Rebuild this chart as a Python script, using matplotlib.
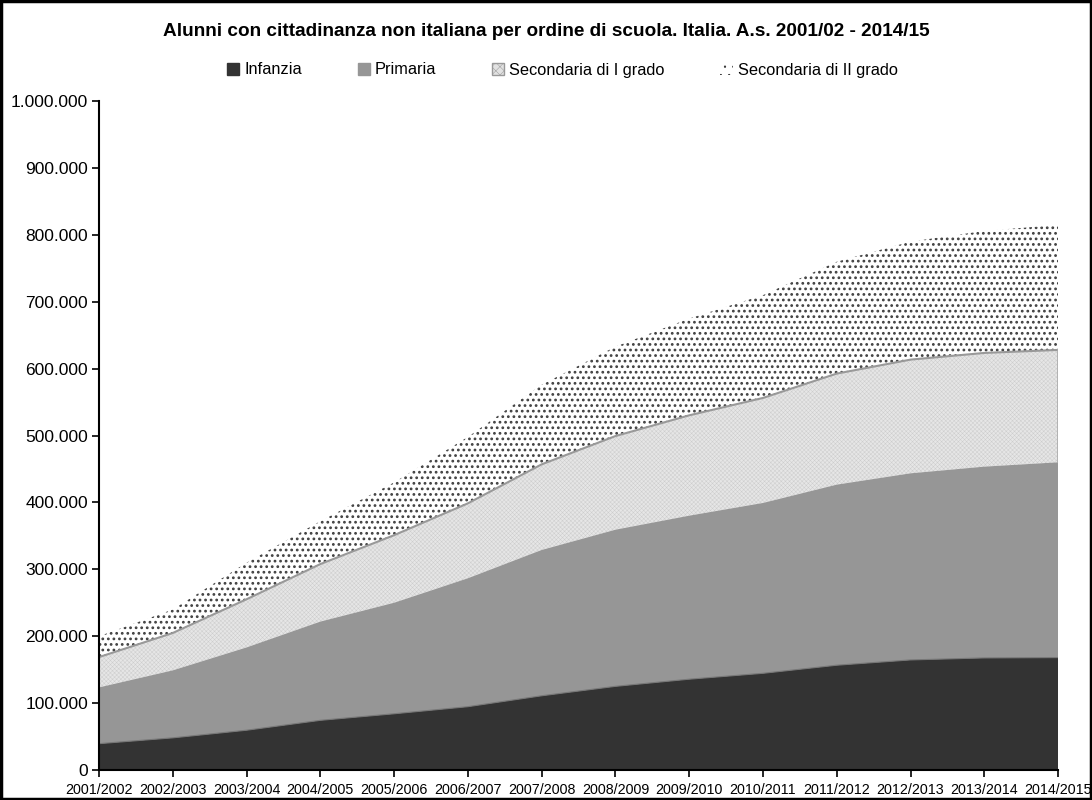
"""
Alunni con cittadinanza non italiana per ordine di scuola - stacked area chart
"""
import numpy as np
import matplotlib.pyplot as plt
from matplotlib.patches import Patch, Rectangle
from matplotlib.ticker import FuncFormatter

plt.rcParams['font.family'] = ['Liberation Sans', 'DejaVu Sans']

anni = ['2001/2002', '2002/2003', '2003/2004', '2004/2005', '2005/2006', '2006/2007',
        '2007/2008', '2008/2009', '2009/2010', '2010/2011', '2011/2012', '2012/2013',
        '2013/2014', '2014/2015']

infanzia = [39400, 48100, 59500, 74300, 84100, 94700, 111000, 125100, 135800,
            144600, 156700, 164600, 167600, 168100]
primaria = [84100, 100900, 123800, 147600, 166000, 192000, 218000, 234200, 244500,
            254700, 270000, 279000, 286000, 292000]
secondaria_1 = [45300, 55900, 72000, 86000, 101000, 112000, 128000, 140000, 150000,
                157000, 166000, 170000, 170000, 168000]
secondaria_2 = [31200, 35100, 54700, 64100, 78900, 99300, 119000, 133700, 144700,
                153700, 167300, 176400, 182400, 186900]

x = np.arange(len(anni))
c1 = np.array(infanzia)
c2 = c1 + np.array(primaria)
c3 = c2 + np.array(secondaria_1)
c4 = c3 + np.array(secondaria_2)

fig = plt.figure(figsize=(10.92, 8), dpi=100)
ax = fig.add_axes([0.0907, 0.0375, 0.8782, 0.836])

plt.rcParams['hatch.linewidth'] = 1.2
ax.fill_between(x, c3, c4, facecolor='white', edgecolor='#404040', hatch='...', linewidth=0)
plt.rcParams['hatch.linewidth'] = 0.35
ax.fill_between(x, c2, c3, facecolor='#e6e6e6', edgecolor='#cdcdcd', hatch='xxxxxxxx', linewidth=0)
ax.fill_between(x, c1, c2, facecolor='#969696', linewidth=0)
ax.fill_between(x, 0, c1, facecolor='#333333', linewidth=0)

# bordi delle aree
ax.plot(x, c3, color='#999999', linewidth=1.5)
ax.plot([x[-1], x[-1]], [c2[-1], c3[-1]], color='#aaaaaa', linewidth=1.2)
ax.plot(x, c1, color='#777777', linewidth=0.8)

ax.set_xlim(0, len(anni) - 1)
ax.set_ylim(0, 1000000)
ax.set_yticks(np.arange(0, 1000001, 100000))
ax.yaxis.set_major_formatter(FuncFormatter(lambda v, p: f'{int(v):,}'.replace(',', '.')))
ax.set_xticks(x)
ax.set_xticklabels(anni)

ax.spines['top'].set_visible(False)
ax.spines['right'].set_visible(False)
ax.spines['left'].set_linewidth(1.5)
ax.spines['bottom'].set_linewidth(1.5)
ax.tick_params(axis='y', direction='out', length=5, width=1.2, labelsize=12.5, pad=3)
ax.tick_params(axis='x', direction='out', length=5, width=1.2, labelsize=10.3, pad=4)

fig.text(0.5, 0.96, 'Alunni con cittadinanza non italiana per ordine di scuola. Italia. A.s. 2001/02 - 2014/15',
         ha='center', va='center', fontsize=13.7, fontweight='bold')

handles = [
    Patch(facecolor='#333333', edgecolor='#333333', label='Infanzia'),
    Patch(facecolor='#969696', edgecolor='#969696', label='Primaria'),
    Patch(facecolor='#e2e2e2', edgecolor='#999999', hatch='xxxx', label='Secondaria di I grado'),
    Patch(facecolor='white', edgecolor='white', hatch='..', label='Secondaria di II grado'),
]
leg = fig.legend(handles=handles, loc='center', bbox_to_anchor=(0.515, 0.9125), ncol=4,
                 frameon=False, fontsize=11.8, handlelength=0.75, handleheight=0.75,
                 handletextpad=0.3, columnspacing=3.4)
for h in leg.legend_handles[3:]:
    h.set_edgecolor('#222222')
    h.set_linewidth(0)

fig.patches.append(Rectangle((0.001, 0.001), 0.998, 0.998, transform=fig.transFigure,
                             fill=False, edgecolor='black', linewidth=2.5))

fig.savefig('out.png', dpi=100)
